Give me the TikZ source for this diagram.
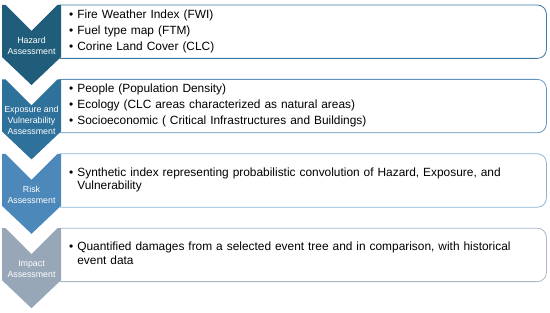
\documentclass[tikz,border=0pt]{standalone}
\usepackage{fontspec}
\setmainfont{Liberation Sans}
\usepackage{tikz}
\usetikzlibrary{positioning,calc}
\definecolor{hzfill}{RGB}{31,93,122}
\definecolor{evfill}{RGB}{46,113,155}
\definecolor{rkfill}{RGB}{76,136,185}
\definecolor{imfill}{RGB}{152,167,183}
\definecolor{hzline}{RGB}{62,122,162}
\definecolor{evline}{RGB}{96,148,192}
\definecolor{rkline}{RGB}{140,180,214}
\definecolor{imline}{RGB}{168,182,197}
\tikzset{
  stage/.style={minimum width=486pt, minimum height=53pt, text width=468pt,
                inner xsep=9pt, inner ysep=0pt, align=left,
                font=\fontsize{11.9}{13.5}\selectfont},
  frame/.style={line width=0.8pt},
  tag/.style={text=white, align=center, inner sep=0pt,
              font=\fontsize{8.8}{10.6}\selectfont}
}

\begin{document}
\begin{tikzpicture}[x=1pt, y=1pt, node distance=21pt]
  \useasboundingbox (0,0) rectangle (550,-313);

  % text boxes
  \node[stage, anchor=north west] (hz) at (60,-5) {%
    \begin{tabular}{@{}l@{\hspace{4pt}}l@{}}
      \textbullet & Fire Weather Index (FWI)\\[2.5pt]
      \textbullet & Fuel type map (FTM)\\[2.5pt]
      \textbullet & Corine Land Cover (CLC)
    \end{tabular}};
  \node[stage, below=of hz] (ev) {%
    \begin{tabular}{@{}l@{\hspace{4pt}}l@{}}
      \textbullet & People (Population Density)\\[2.5pt]
      \textbullet & Ecology (CLC areas characterized as natural areas)\\[2.5pt]
      \textbullet & Socioeconomic ( Critical Infrastructures and Buildings)
    \end{tabular}};
  \node[stage, below=of ev] (rk) {%
    \begin{tabular}{@{}l@{\hspace{4pt}}l@{}}
      \textbullet & Synthetic index representing probabilistic convolution of Hazard, Exposure, and\\
                  & Vulnerability
    \end{tabular}};
  \node[stage, below=of rk] (im) {%
    \begin{tabular}{@{}l@{\hspace{4pt}}l@{}}
      \textbullet & Quantified damages from a selected event tree and in comparison, with historical\\
                  & event data
    \end{tabular}};

  \foreach \n/\c in {hz/hzline, ev/evline, rk/rkline, im/imline}
    \draw[frame, draw=\c] (\n.north west) -- ([xshift=-9pt]\n.north east)
      arc[start angle=90, end angle=0, radius=9pt] -- ([yshift=9pt]\n.south east)
      arc[start angle=0, end angle=-90, radius=9pt] -- (\n.south west) -- cycle;

  % chevrons
  \foreach \n/\c in {hz/hzfill, ev/evfill, rk/rkfill, im/imfill}
    \fill[\c] ([xshift=-58pt]\n.north west) -- ++(3.5,0) -- ++(26,-26) -- ++(26,26)
      -- ++(3.5,0) -- ++(0,-52) -- ++(-29.5,-28) -- ++(-29.5,28) -- cycle;

  \node[tag] (hzt) at ([shift={(-28.5pt,-41pt)}]hz.north west) {Hazard\\Assessment};
  \node[tag] (evt) at ([shift={(-28.5pt,-41pt)}]ev.north west) {Exposure and\\Vulnerability\\Assessment};
  \node[tag] (rkt) at ([shift={(-28.5pt,-41pt)}]rk.north west) {Risk\\Assessment};
  \node[tag] (imt) at ([shift={(-28.5pt,-41pt)}]im.north west) {Impact\\Assessment};
\end{tikzpicture}
\end{document}
